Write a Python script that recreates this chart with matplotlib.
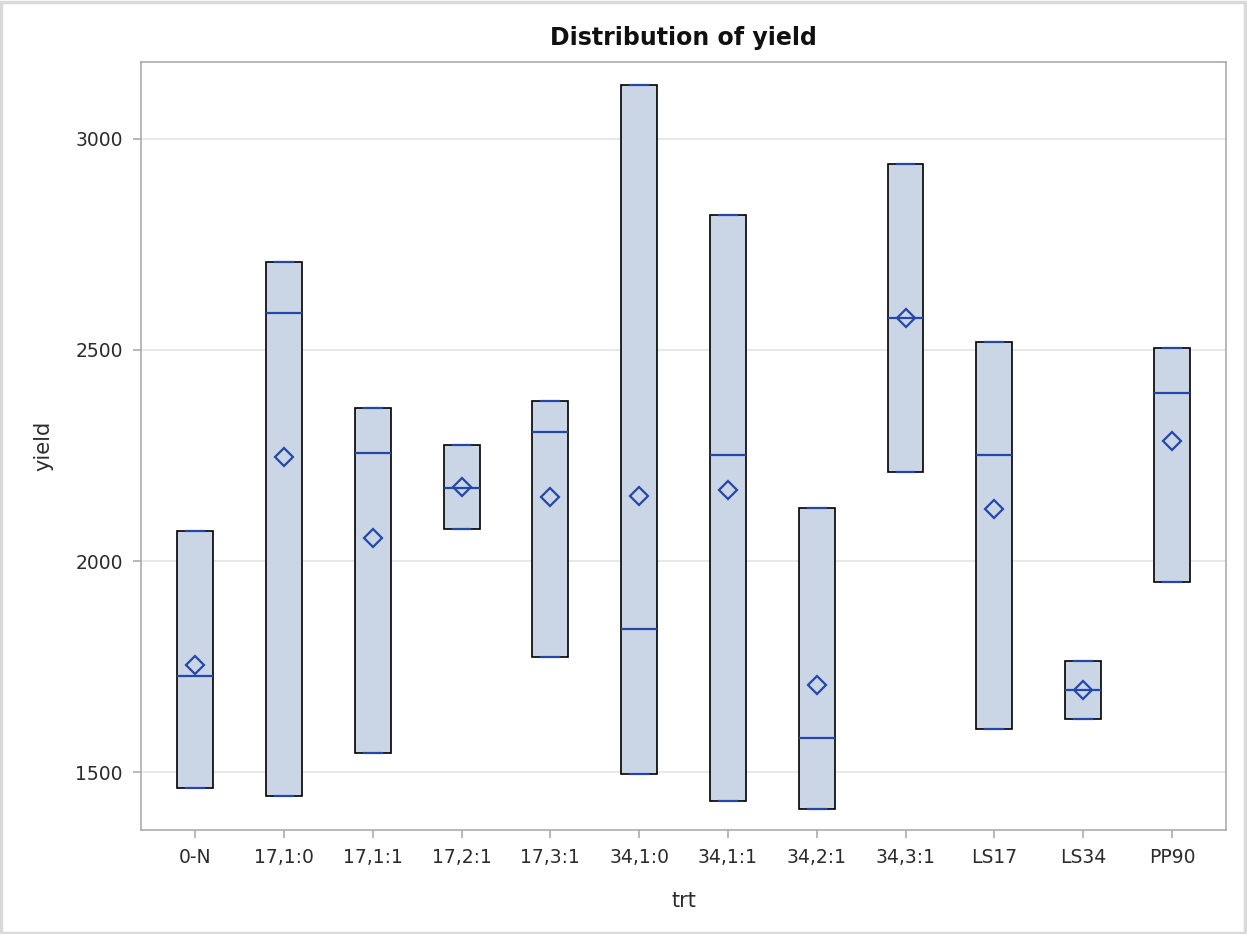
import numpy as np
import matplotlib
matplotlib.use("Agg")
import matplotlib.pyplot as plt
from matplotlib.patches import Rectangle

plt.rcParams['font.family'] = ['DejaVu Sans']

# Three yield observations per treatment: lowest, middle, highest
treatments = ["0-N", "17,1:0", "17,1:1", "17,2:1", "17,3:1", "34,1:0",
              "34,1:1", "34,2:1", "34,3:1", "LS17", "LS34", "PP90"]
yield_low = [1462, 1443, 1545, 2076, 1773, 1495, 1431, 1412, 2211, 1602, 1626, 1950]
yield_mid = [1727, 2588, 2256, 2173, 2306, 1839, 2251, 1581, 2576, 2251, 1694, 2398]
yield_high = [2071, 2709, 2363, 2275, 2379, 3128, 2820, 2126, 2941, 2519, 1763, 2505]

y_ticks = [1500, 2000, 2500, 3000]

box_face = "#cad5e6"
blue = "#2548a8"

stats = []
for name, lo, md, hi in zip(treatments, yield_low, yield_mid, yield_high):
    stats.append(dict(label=name, q1=lo, med=md, q3=hi, whislo=lo, whishi=hi,
                      mean=np.mean([lo, md, hi]), fliers=[]))

fig = plt.figure(figsize=(12.47, 9.34), dpi=100)
ax = fig.add_axes([0.1131, 0.1113, 0.8701, 0.8223])

ax.bxp(stats, positions=np.arange(len(treatments)), widths=0.405,
       capwidths=0.2, showmeans=True, patch_artist=True,
       boxprops=dict(facecolor=box_face, edgecolor="black", linewidth=1.2),
       medianprops=dict(color=blue, linewidth=1.6),
       whiskerprops=dict(color=blue, linewidth=1.2),
       capprops=dict(color=blue, linewidth=1.6),
       meanprops=dict(marker="D", markersize=9.5, markerfacecolor="none",
                      markeredgecolor=blue, markeredgewidth=1.6),
       zorder=3)

ax.set_xlim(-0.61, 11.61)
ax.set_ylim(1363, 3182)
ax.set_yticks(y_ticks)
ax.set_xticks(np.arange(len(treatments)))
ax.set_xticklabels(treatments)
ax.yaxis.grid(True, color="#e4e4e4", linewidth=1.2, zorder=0)
ax.set_axisbelow(True)

for s in ax.spines.values():
    s.set_color("#a8abb0")
    s.set_linewidth(1.2)
ax.tick_params(axis="both", colors="#a8abb0", length=6, width=1.2,
               labelcolor="#2b2b2b", labelsize=13.5, pad=7)

ax.set_xlabel("trt", fontsize=15, color="#2b2b2b", labelpad=17)
ax.set_ylabel("yield", fontsize=15, color="#2b2b2b", labelpad=16)
ax.set_title("Distribution of yield", fontsize=17, color="#111111",
             fontweight="bold", pad=12)

fig.patches.append(Rectangle((0.001, 0.001), 0.997, 0.997, transform=fig.transFigure,
                             fill=False, edgecolor="#d9d9d9", linewidth=2.5))

fig.savefig("out.png", dpi=100)
